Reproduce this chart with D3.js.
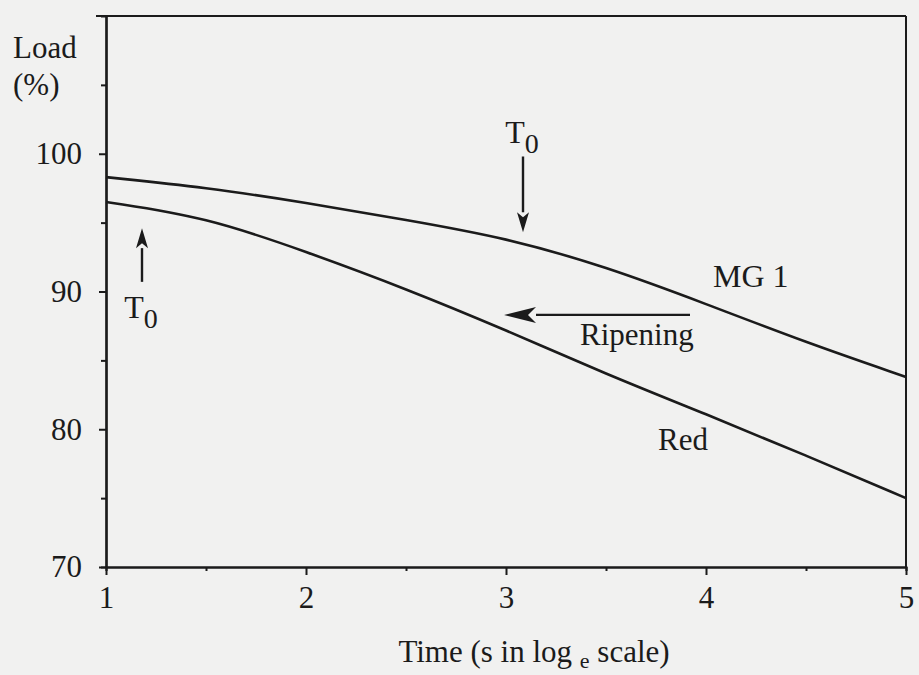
<!DOCTYPE html>
<html>
<head>
<meta charset="utf-8">
<script src="https://cdn.jsdelivr.net/npm/d3@7"></script>
<style>
  html, body { margin: 0; padding: 0; background: #f1f1f0; }
  svg { display: block; }
  text { font-family: "Liberation Serif", "DejaVu Serif", serif; fill: #1b1b1b; }
</style>
</head>
<body>
<script>
// DATA
const times = [1, 1.5, 2, 2.5, 3, 3.5, 4, 4.5, 5]
const mg1Load = [98.3, 97.55, 96.45, 95.2, 93.9, 91.8, 89.1, 86.3, 83.8]
const redLoad = [96.5, 95.4, 92.9, 90.2, 87.2, 84.0, 81.1, 78.1, 75.0]
const xTicks = [1, 2, 3, 4, 5]
const xMinorTicks = [1.5, 2.5, 3.5, 4.5]
const yTicks = [70, 80, 90, 100]
const yMinorTicks = [75, 85, 95, 105]

// CANVAS SIZE
const fullWidth = 919
const fullHeight = 675
const ink = '#1b1b1b'

const svg = d3.select('body')
  .append('svg')
  .attr('width', fullWidth)
  .attr('height', fullHeight)

// SCALES
const x = d3.scaleLinear().domain([1, 5]).range([106, 906])
const y = d3.scaleLinear().domain([70, 110]).range([567, 16])

// FRAME (top + right lines)
svg.append('line')
  .attr('x1', 96).attr('x2', x(5))
  .attr('y1', y(110)).attr('y2', y(110))
  .attr('stroke', ink).attr('stroke-width', 2)
svg.append('line')
  .attr('x1', x(5)).attr('x2', x(5))
  .attr('y1', y(110)).attr('y2', y(70))
  .attr('stroke', ink).attr('stroke-width', 2)

// AXES
const styleAxis = g => {
  g.select('.domain').attr('stroke', ink).attr('stroke-width', 2.2)
  g.selectAll('.tick line').attr('stroke', ink).attr('stroke-width', 2)
  g.selectAll('.tick text').attr('fill', ink).style('font-size', '31px')
    .style('font-family', '"Liberation Serif", serif')
}

svg.append('g')
  .attr('transform', `translate(${x(1)},0)`)
  .call(d3.axisLeft(y).tickValues(yMinorTicks).tickSize(5).tickFormat(''))
  .call(styleAxis)
svg.append('g')
  .attr('transform', `translate(${x(1)},0)`)
  .call(d3.axisLeft(y).tickValues(yTicks).tickSize(7).tickPadding(17)
    .tickSizeOuter(0).tickFormat(d3.format('d')))
  .call(styleAxis)

svg.append('g')
  .attr('transform', `translate(0,${y(70)})`)
  .call(d3.axisBottom(x).tickValues(xMinorTicks).tickSize(4).tickFormat(''))
  .call(styleAxis)
svg.append('g')
  .attr('transform', `translate(0,${y(70)})`)
  .call(d3.axisBottom(x).tickValues(xTicks).tickSize(8).tickPadding(11)
    .tickSizeOuter(0).tickFormat(d3.format('d')))
  .call(styleAxis)

// AXIS LABELS
svg.append('text').attr('x', 13).attr('y', 58).style('font-size', '31px').text('Load')
svg.append('text').attr('x', 13).attr('y', 95).style('font-size', '31px').text('(%)')

const xLabel = svg.append('text')
  .attr('x', 534).attr('y', 662)
  .attr('text-anchor', 'middle')
  .style('font-size', '31px')
xLabel.append('tspan').text('Time (s in log ')
xLabel.append('tspan').attr('dy', 6).style('font-size', '22px').text('e')
xLabel.append('tspan').attr('dy', -6).text(' scale)')

// CURVES
const line = d3.line()
  .x((d, i) => x(times[i]))
  .y(d => y(d))
  .curve(d3.curveBasis)

svg.append('path').datum(mg1Load)
  .attr('d', line).attr('fill', 'none')
  .attr('stroke', ink).attr('stroke-width', 2.6)
svg.append('path').datum(redLoad)
  .attr('d', line).attr('fill', 'none')
  .attr('stroke', ink).attr('stroke-width', 2.6)

// ANNOTATIONS
// arrow from (x1,y1) to tip (x2,y2), with filled head
function arrow(x1, y1, x2, y2, headLen, headHalf) {
  const ang = Math.atan2(y2 - y1, x2 - x1)
  const bx = x2 - headLen * Math.cos(ang)
  const by = y2 - headLen * Math.sin(ang)
  svg.append('line')
    .attr('x1', x1).attr('y1', y1).attr('x2', bx).attr('y2', by)
    .attr('stroke', ink).attr('stroke-width', 2.4)
  const px = -Math.sin(ang) * headHalf
  const py = Math.cos(ang) * headHalf
  svg.append('path')
    .attr('d', `M${x2},${y2}L${bx + px},${by + py}L${bx + headLen * 0.25 * Math.cos(ang)},${by + headLen * 0.25 * Math.sin(ang)}L${bx - px},${by - py}Z`)
    .attr('fill', ink)
}

function tZero(cx, baseline) {
  const t = svg.append('text').attr('x', cx).attr('y', baseline)
    .attr('text-anchor', 'middle').style('font-size', '32px')
  t.append('tspan').text('T')
  t.append('tspan').attr('dy', 10).style('font-size', '28px').text('0')
}

// T0 on the red curve (arrow up)
arrow(x(1.18), y(90.7), x(1.18), y(94.6), 20, 6)
tZero(x(1.175), 318)

// T0 on the MG 1 curve (arrow down)
arrow(x(3.085), y(99.8), x(3.085), y(94.3), 20, 6)
tZero(x(3.08), 143)

// ripening arrow
arrow(x(3.92), y(88.3), x(2.99), y(88.3), 32, 8)

svg.append('text').attr('x', 713).attr('y', 287).style('font-size', '32px').text('MG 1')
svg.append('text').attr('x', 580).attr('y', 345).style('font-size', '31px').text('Ripening')
svg.append('text').attr('x', 658).attr('y', 450).style('font-size', '31px').text('Red')
</script>
</body>
</html>
